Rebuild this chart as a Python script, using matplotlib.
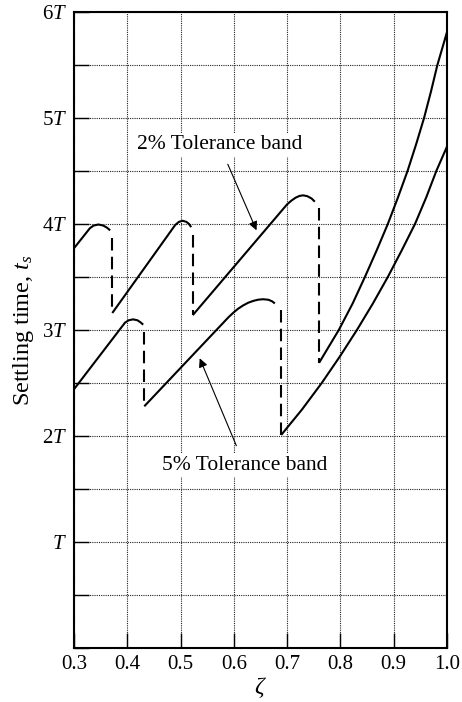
import matplotlib.pyplot as plt
from matplotlib.ticker import MultipleLocator

# 2% tolerance band: solid pieces
z2_a = [0.300, 0.330, 0.337, 0.346, 0.355, 0.362, 0.368]
t2_a = [3.77, 3.96, 3.985, 3.995, 3.985, 3.965, 3.94]
z2_b = [0.372, 0.490, 0.497, 0.504, 0.511, 0.516, 0.520]
t2_b = [3.16, 3.99, 4.02, 4.03, 4.02, 4.00, 3.97]
z2_c = [0.523, 0.700, 0.708, 0.716, 0.723, 0.730, 0.738, 0.746, 0.752]
t2_c = [3.14, 4.185, 4.22, 4.248, 4.264, 4.27, 4.262, 4.24, 4.21]
z2_d = [0.760, 0.797, 0.823, 0.846, 0.868, 0.889, 0.908, 0.926, 0.942, 0.957, 0.970, 0.982, 1.000]
t2_d = [2.69, 3.00, 3.25, 3.50, 3.75, 4.00, 4.25, 4.50, 4.75, 5.00, 5.25, 5.50, 5.81]
# 2% jumps (dashed)
z2_jump = [0.371, 0.523, 0.760]
t2_jump_top = [3.87, 3.90, 4.15]
t2_jump_bot = [3.16, 3.14, 2.69]

# 5% tolerance band: solid pieces
z5_a = [0.300, 0.396, 0.403, 0.411, 0.419, 0.425, 0.430]
t5_a = [2.44, 3.07, 3.092, 3.10, 3.092, 3.072, 3.05]
z5_b = [0.432, 0.590, 0.600, 0.608, 0.617, 0.627, 0.637, 0.646, 0.655, 0.665, 0.672, 0.677]
t5_b = [2.28, 3.12, 3.167, 3.20, 3.23, 3.257, 3.275, 3.286, 3.29, 3.285, 3.27, 3.25]
z5_c = [0.689, 0.728, 0.765, 0.799, 0.831, 0.861, 0.889, 0.915, 0.940, 0.961, 0.980, 1.000]
t5_c = [2.01, 2.25, 2.50, 2.75, 3.00, 3.25, 3.50, 3.75, 4.00, 4.25, 4.50, 4.73]
# 5% jumps (dashed)
z5_jump = [0.431, 0.688]
t5_jump_top = [2.98, 3.19]
t5_jump_bot = [2.28, 2.01]

ytick_vals = [0, 1, 2, 3, 4, 5, 6]
ytick_labels = ['', '$T$', '2$T$', '3$T$', '4$T$', '5$T$', '6$T$']
xtick_vals = [0.3, 0.4, 0.5, 0.6, 0.7, 0.8, 0.9, 1.0]

plt.rcParams['font.family'] = ['Liberation Serif', 'DejaVu Serif']
plt.rcParams['mathtext.fontset'] = 'custom'
plt.rcParams['mathtext.rm'] = 'Liberation Serif'
plt.rcParams['mathtext.it'] = 'Liberation Serif:italic'

fig = plt.figure(figsize=(4.62, 7.02), dpi=100)
ax = fig.add_axes([0.160, 0.0769, 0.8075, 0.9061])

lw = 1.5
for zs, ts in [(z2_a, t2_a), (z2_b, t2_b), (z2_c, t2_c), (z2_d, t2_d),
               (z5_a, t5_a), (z5_b, t5_b), (z5_c, t5_c)]:
    ax.plot(zs, ts, color='black', lw=lw, solid_capstyle='butt')

for z, top, bot in list(zip(z2_jump, t2_jump_top, t2_jump_bot)) + list(zip(z5_jump, t5_jump_top, t5_jump_bot)):
    ax.plot([z, z], [top, bot], color='black', lw=lw, linestyle=(0, (6, 3)))

ax.set_xlim(0.3, 1.0)
ax.set_ylim(0, 6)
ax.set_xticks(xtick_vals)
ax.set_xticklabels(['%.1f' % v for v in xtick_vals])
ax.set_yticks(ytick_vals)
ax.set_yticklabels(ytick_labels)
ax.yaxis.set_minor_locator(MultipleLocator(0.5))

ax.tick_params(axis='both', which='both', direction='in', length=11, width=1.0,
               labelsize=15, top=False, right=False)
ax.tick_params(axis='y', which='major', pad=5)
ax.tick_params(axis='x', which='major', pad=5)
ax.grid(True, which='both', color='#222222', lw=0.8, linestyle=(0, (1, 1)))
for sp in ax.spines.values():
    sp.set_linewidth(1.5)

ax.set_xlabel(r'$\zeta$', fontsize=17, labelpad=1)
ax.set_ylabel(r'Settling time, $t_s$', fontsize=17.5, labelpad=4)

ax.annotate('2% Tolerance band', xy=(0.6426, 3.94), xytext=(0.573, 4.745),
            fontsize=15.5, ha='center', va='center',
            arrowprops=dict(arrowstyle='-|>', color='black', lw=0.8,
                            mutation_scale=13, shrinkA=6, shrinkB=0),
            bbox=dict(boxstyle='square,pad=0.1', fc='white', ec='none'))
ax.annotate('5% Tolerance band', xy=(0.536, 2.733), xytext=(0.620, 1.726),
            fontsize=15.5, ha='center', va='center',
            arrowprops=dict(arrowstyle='-|>', color='black', lw=0.8,
                            mutation_scale=13, shrinkA=6, shrinkB=0),
            bbox=dict(boxstyle='square,pad=0.1', fc='white', ec='none'))

fig.savefig('out.png', dpi=100)
